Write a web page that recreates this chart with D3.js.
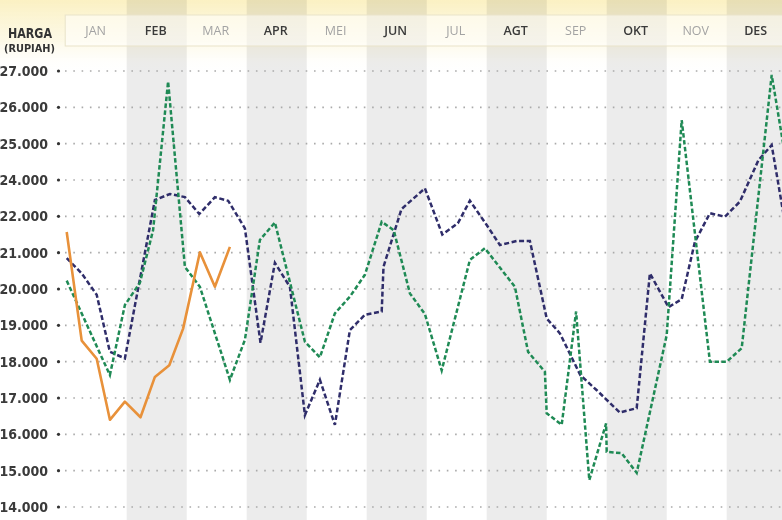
<!DOCTYPE html>
<html>
<head>
<meta charset="utf-8">
<script src="https://cdn.jsdelivr.net/npm/d3@7"></script>
<style>
  body { margin: 0; background: #fff; }
  svg { display: block; }
</style>
</head>
<body>
<script>

var width = 782, height = 520;

// month columns
var months = ["JAN", "FEB", "MAR", "APR", "MEI", "JUN", "JUL", "AGT", "SEP", "OKT", "NOV", "DES"];

// y axis labels as printed (note: the source skips 23.000)
var yTicks = [27000, 26000, 25000, 24000, 22000, 21000, 20000, 19000, 18000, 17000, 16000, 15000, 14000];

// [month position, harga]
var navy = [
  [0, 20850], [0.25, 20430], [0.5, 19840], [0.72, 18270], [0.97, 18090],
  [1.47, 22900], [1.72, 23230], [1.97, 23060], [2.21, 22130], [2.47, 23050],
  [2.69, 22860], [2.97, 21670], [3.23, 18520], [3.47, 20720], [3.72, 20060],
  [3.97, 16530], [4.22, 17500], [4.47, 16260], [4.72, 18870], [4.97, 19290],
  [5.25, 19380], [5.28, 20610], [5.58, 22400], [5.97, 23540], [6.26, 21500],
  [6.52, 21810], [6.72, 22860], [7.0, 21760], [7.22, 21210], [7.5, 21320],
  [7.72, 21320], [8.0, 19190], [8.22, 18780], [8.56, 17630], [8.83, 17220],
  [9.22, 16600], [9.5, 16720], [9.72, 20430], [10.03, 19500], [10.25, 19720],
  [10.47, 21300], [10.72, 22170], [10.97, 21990], [11.22, 22810], [11.53, 24550],
  [11.75, 24960], [12.0, 21540]
];

var green = [
  [0, 20230], [0.72, 17630], [0.97, 19560], [1.22, 20170], [1.44, 21620],
  [1.69, 26710], [1.97, 20610], [2.22, 20060], [2.72, 17500], [2.97, 18600],
  [3.22, 21350], [3.47, 21830], [3.97, 18550], [4.22, 18120], [4.47, 19330],
  [4.72, 19790], [4.97, 20390], [5.25, 21850], [5.45, 21620], [5.72, 19880],
  [5.97, 19310], [6.25, 17760], [6.72, 20800], [6.97, 21120], [7.47, 20060],
  [7.69, 18270], [7.97, 17720], [8.0, 16580], [8.25, 16260], [8.49, 19380],
  [8.71, 14740], [8.99, 16300], [9.0, 15520], [9.25, 15480], [9.5, 14940],
  [10.0, 18730], [10.25, 25650], [10.72, 18000], [11.0, 18000], [11.25, 18370],
  [11.75, 26890], [12.0, 24410]
];

var orange = [
  [0, 21570], [0.25, 18580], [0.5, 18080], [0.72, 16400], [0.97, 16900],
  [1.23, 16470], [1.47, 17580], [1.71, 17900], [1.94, 18910], [2.22, 21010],
  [2.47, 20060], [2.72, 21160]
];

var plotTop = 71, plotBottom = 507, plotLeft = 66.7, colW = 60;
var step = (plotBottom - plotTop) / (yTicks.length - 1);

var x = d3.scaleLinear()
    .domain([0, months.length])
    .range([plotLeft, plotLeft + colW * months.length]);

// one grid step per printed label
var y = d3.scaleLinear()
    .domain(yTicks.slice().reverse())
    .range(yTicks.map(function(d, i) { return plotBottom - i * step; }));

var fmt = function(d) { return d3.format(",")(d).replace(/,/g, "."); };

var svg = d3.select("body").append("svg")
    .attr("width", width)
    .attr("height", height);

var defs = svg.append("defs");
var grad = defs.append("linearGradient")
    .attr("id", "topfade")
    .attr("x1", 0).attr("y1", 0).attr("x2", 0).attr("y2", 1);
grad.append("stop").attr("offset", "0%").attr("stop-color", "#f8e79a").attr("stop-opacity", 0.6);
grad.append("stop").attr("offset", "55%").attr("stop-color", "#faf0c0").attr("stop-opacity", 0.4);
grad.append("stop").attr("offset", "100%").attr("stop-color", "#ffffff").attr("stop-opacity", 0);

defs.append("clipPath").attr("id", "plotclip")
  .append("rect")
    .attr("x", plotLeft - 4).attr("y", 0)
    .attr("width", width - plotLeft + 4).attr("height", height);

// grey bands for every other month
svg.append("g")
  .selectAll("rect")
  .data(months)
  .enter().append("rect")
    .filter(function(d, i) { return i % 2 === 1; })
    .attr("x", function(d) { return x(months.indexOf(d)); })
    .attr("y", 0)
    .attr("width", colW)
    .attr("height", height)
    .attr("fill", "#ececec");

// warm fade at the top
svg.append("rect")
    .attr("x", 0).attr("y", 0)
    .attr("width", width).attr("height", 74)
    .attr("fill", "url(#topfade)")
    .style("mix-blend-mode", "multiply");

// header strip
svg.append("rect")
    .attr("x", plotLeft - 1.5).attr("y", 15)
    .attr("width", width - plotLeft + 10).attr("height", 31)
    .attr("fill", "#ffffff").attr("fill-opacity", 0.5)
    .attr("stroke", "#e9e3c9").attr("stroke-width", 1);

svg.append("g")
  .selectAll("text")
  .data(months)
  .enter().append("text")
    .attr("x", function(d, i) { return x(i + 0.5) - 1; })
    .attr("y", 34.5)
    .attr("text-anchor", "middle")
    .style("font-family", "'Open Sans', sans-serif")
    .style("font-size", "12.5px")
    .style("font-weight", function(d, i) { return i % 2 ? 600 : 400; })
    .attr("fill", function(d, i) { return i % 2 ? "#3a3a3a" : "#a3a3a3"; })
    .text(function(d) { return d; });

// axis title
var cond = "'Liberation Sans Narrow', 'DejaVu Sans Condensed', sans-serif";
svg.append("text")
    .attr("x", 8).attr("y", 38)
    .attr("textLength", 44).attr("lengthAdjust", "spacingAndGlyphs")
    .style("font-family", cond).style("font-size", "14px").style("font-weight", "bold")
    .attr("fill", "#333")
    .text("HARGA");
svg.append("text")
    .attr("x", 4).attr("y", 51.5)
    .attr("textLength", 51).attr("lengthAdjust", "spacingAndGlyphs")
    .style("font-family", cond).style("font-size", "10px").style("font-weight", "bold")
    .attr("fill", "#333")
    .text("(RUPIAH)");

// dotted grid lines
var grid = svg.append("g");
grid.selectAll("line")
  .data(yTicks)
  .enter().append("line")
    .attr("x1", 65).attr("x2", width)
    .attr("y1", function(d) { return y(d); })
    .attr("y2", function(d) { return y(d); })
    .attr("stroke", "#aaa")
    .attr("stroke-width", 1.6)
    .attr("stroke-dasharray", "1.6,6.7");

grid.selectAll("circle")
  .data(yTicks)
  .enter().append("circle")
    .attr("cx", 58.5)
    .attr("cy", function(d) { return y(d); })
    .attr("r", 1.6)
    .attr("fill", "#333");

grid.selectAll("text")
  .data(yTicks)
  .enter().append("text")
    .attr("x", 48)
    .attr("y", function(d) { return y(d) + 5; })
    .attr("text-anchor", "end")
    .style("font-family", cond)
    .style("font-size", "14px")
    .style("font-weight", "bold")
    .attr("fill", "#3a3a3a")
    .text(fmt);

// series
var line = d3.line()
    .x(function(d) { return x(d[0]); })
    .y(function(d) { return y(d[1]); });

var lines = svg.append("g").attr("clip-path", "url(#plotclip)");

lines.append("path")
    .datum(navy)
    .attr("d", line)
    .attr("fill", "none")
    .attr("stroke", "#2f2d6a")
    .attr("stroke-width", 2.5)
    .attr("stroke-dasharray", "5,2.6");

lines.append("path")
    .datum(green)
    .attr("d", line)
    .attr("fill", "none")
    .attr("stroke", "#1f8a55")
    .attr("stroke-width", 2.5)
    .attr("stroke-dasharray", "4.5,2.4");

lines.append("path")
    .datum(orange)
    .attr("d", line)
    .attr("fill", "none")
    .attr("stroke", "#e8913a")
    .attr("stroke-width", 2.6)
    .attr("stroke-linejoin", "round");

</script>
</body>
</html>
